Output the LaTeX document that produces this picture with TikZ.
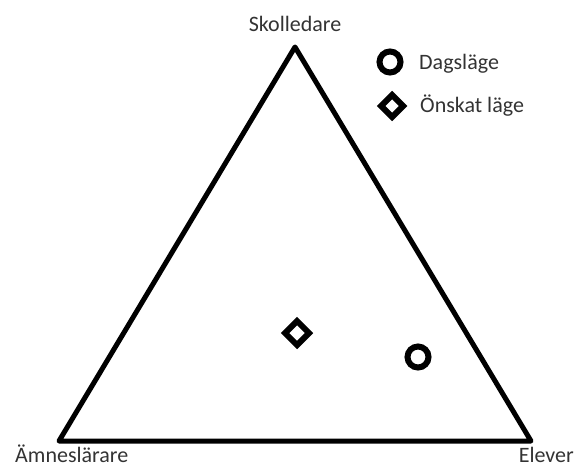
\documentclass[tikz,border=0pt]{standalone}
\usepackage{fontspec}
\setmainfont{Carlito}
\begin{document}
\begin{tikzpicture}[x=1pt,y=-1pt,
  lbl/.style={inner sep=0pt,text=black!80,font=\fontsize{22}{26}\selectfont},
  tri/.style={line width=5pt,line join=round},
  circmark/.style={circle,draw,line width=6pt,minimum size=21pt,inner sep=0pt},
  diamark/.style={line width=6pt,line join=miter}]
\useasboundingbox (0,0) rectangle (577,468);
\coordinate (A) at (295,47);
\coordinate (B) at (59,441);
\coordinate (C) at (531,441);
\draw[tri] (A) -- (B) -- (C) -- cycle;
\node[lbl,anchor=base] (sk) at (295,32) {Skolledare};
\node[lbl,anchor=base west] (am) at (15,462) {Ämneslärare};
\node[lbl,anchor=base east] (el) at (574,462) {Elever};
% legend
\node[circmark] (lc) at (390,62) {};
\node[lbl,anchor=base west] (ld) at (419,70) {Dagsläge};
\coordinate (ldm) at (392,106);
\draw[diamark] ([xshift=-11pt]ldm) -- ([yshift=-11pt]ldm) -- ([xshift=11pt]ldm) -- ([yshift=11pt]ldm) -- cycle;
\node[lbl,anchor=base west] (lo) at (420,112) {Önskat läge};
% data
\coordinate (dm) at (297,333);
\draw[diamark] ([xshift=-12pt]dm) -- ([yshift=-12pt]dm) -- ([xshift=12pt]dm) -- ([yshift=12pt]dm) -- cycle;
\node[circmark] (dc) at (418,357) {};
\end{tikzpicture}
\end{document}
